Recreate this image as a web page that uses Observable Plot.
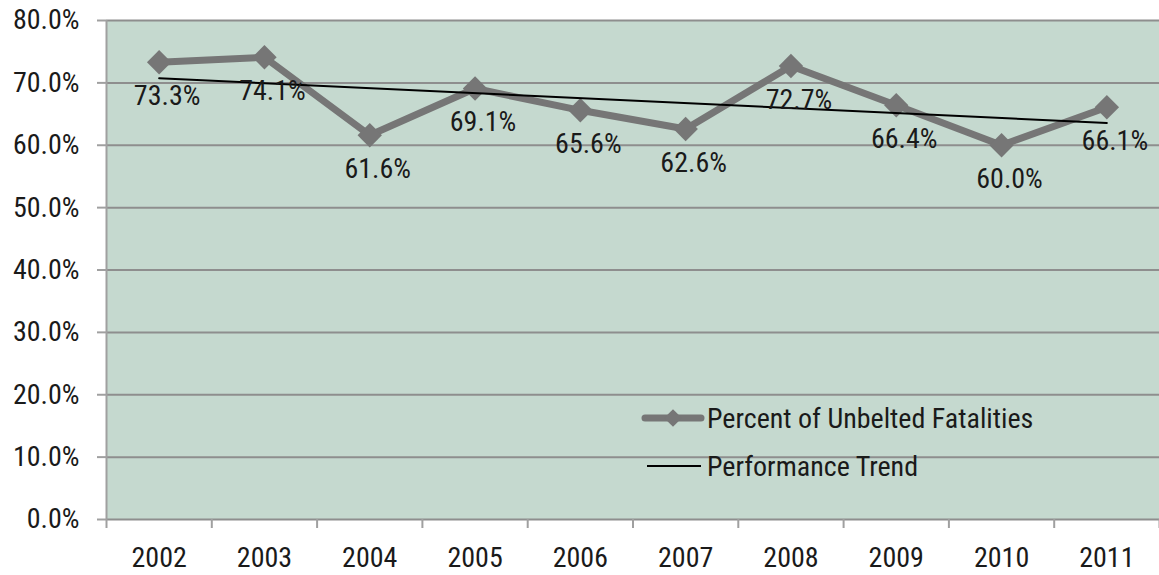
<!DOCTYPE html>
<html>
<head>
<meta charset="utf-8">
<script src="https://cdn.jsdelivr.net/npm/d3@7"></script>
<script src="https://cdn.jsdelivr.net/npm/@observablehq/plot@0.6"></script>
<style>
  html, body { margin: 0; padding: 0; background: #ffffff; }
  #chart svg { display: block; }
</style>
</head>
<body>
<div id="chart"></div>
<script>
const years = [2002, 2003, 2004, 2005, 2006, 2007, 2008, 2009, 2010, 2011];
const unbeltedPct = [73.3, 74.1, 61.6, 69.1, 65.6, 62.6, 72.7, 66.4, 60.0, 66.1];
const yTicks = [0, 10, 20, 30, 40, 50, 60, 70, 80];
const seriesName = "Percent of Unbelted Fatalities";
const trendName = "Performance Trend";

const data = years.map((year, i) => ({year, value: unbeltedPct[i]}));
const boundaries = years.map(y => y - 0.5).concat([years[years.length - 1] + 0.5]);

const FONT = '"Liberation Sans Narrow", "Roboto Condensed", "Open Sans", sans-serif';
const FS = 28;
const W = 1159, H = 575;
const mL = 106, mR = 0, mT = 20, mB = 56;

const chart = Plot.plot({
  width: W,
  height: H,
  marginLeft: mL,
  marginRight: mR,
  marginTop: mT,
  marginBottom: mB,
  style: {fontFamily: FONT, fontSize: FS + "px", color: "#1a1a1a", background: "#ffffff", overflow: "visible"},
  x: {type: "linear", domain: [years[0] - 0.5, years[years.length - 1] + 0.5]},
  y: {domain: [0, 80]},
  marks: [
    Plot.frame({fill: "#c5d9cf", stroke: "none"}),
    Plot.gridY(yTicks, {stroke: "#8e8e8e", strokeOpacity: 1, strokeWidth: 2}),
    Plot.ruleX([boundaries[0]], {stroke: "#a0a0a0", strokeWidth: 2}),
    Plot.axisY(yTicks, {
      tickSize: 9, tickPadding: 18, stroke: "#a0a0a0", strokeWidth: 2,
      tickFormat: d => d.toFixed(1) + "%", label: null, fill: "#1a1a1a", fontSize: FS
    }),
    Plot.axisX(boundaries, {
      tickSize: 9, stroke: "#a0a0a0", strokeWidth: 2, tickFormat: () => "", label: null
    }),
    Plot.axisX(years, {
      tickSize: 0, tickPadding: 28, tickFormat: d => String(d), label: null, fill: "#1a1a1a", fontSize: FS
    }),
    Plot.lineY(data, {x: "year", y: "value", stroke: "#767676", strokeWidth: 7, strokeLinejoin: "miter"}),
    Plot.dot(data, {x: "year", y: "value", symbol: "diamond2", r: 11, fill: "#767676", stroke: "none"}),
    Plot.linearRegressionY(data, {x: "year", y: "value", stroke: "#000000", strokeWidth: 2, ci: 0}),
    Plot.text(data, {
      x: "year", y: "value", text: d => d.value.toFixed(1) + "%",
      dy: 34, dx: 8, fill: "#1a1a1a", fontSize: FS
    })
  ]
});

// Legend inside the plot area
const svg = d3.select(chart);
const lg = svg.append("g").attr("font-family", FONT).attr("font-size", FS)
  .attr("fill", "#1a1a1a").attr("text-anchor", "start");
const lx = 645, ly1 = 418, ly2 = 466;
lg.append("line").attr("x1", lx).attr("x2", lx + 56).attr("y1", ly1).attr("y2", ly1)
  .attr("stroke", "#767676").attr("stroke-width", 7).attr("stroke-linecap", "round");
lg.append("path").attr("d", d3.symbol(d3.symbolSquare2 || d3.symbolSquare, 200)())
  .attr("transform", `translate(${lx + 28},${ly1}) rotate(45)`).attr("fill", "#767676");
lg.append("text").attr("x", lx + 62).attr("y", ly1).attr("dy", "0.36em").text(seriesName);
lg.append("line").attr("x1", lx + 2).attr("x2", lx + 56).attr("y1", ly2).attr("y2", ly2)
  .attr("stroke", "#000000").attr("stroke-width", 2);
lg.append("text").attr("x", lx + 62).attr("y", ly2).attr("dy", "0.36em").text(trendName);

document.getElementById("chart").appendChild(chart);
</script>
</body>
</html>
